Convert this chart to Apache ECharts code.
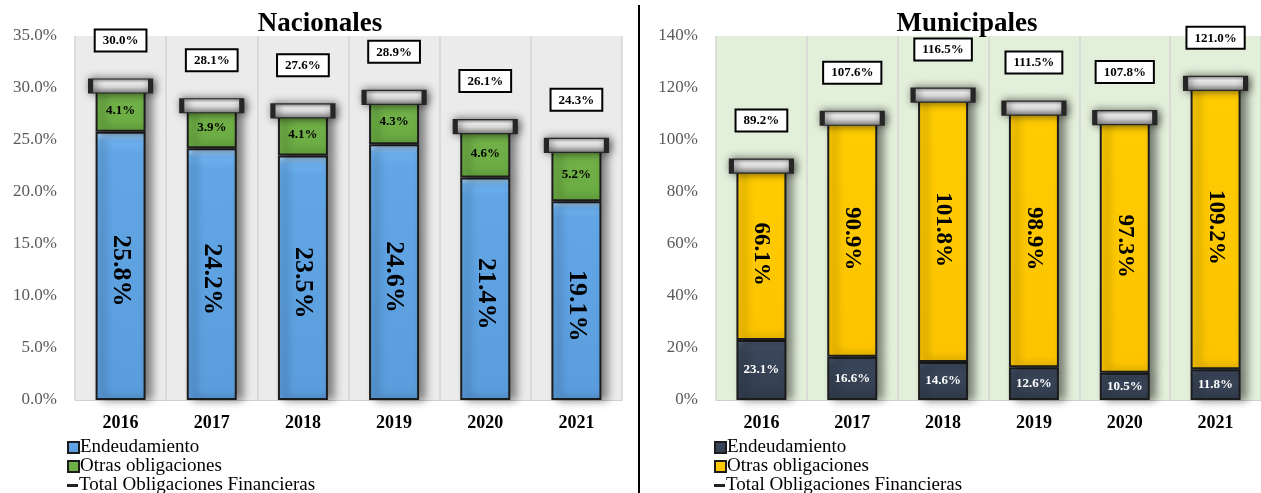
<!DOCTYPE html>
<html>
<head>
<meta charset="utf-8">
<script src="https://cdn.jsdelivr.net/npm/echarts@6/dist/echarts.min.js"></script>
<style>
  html, body { margin: 0; padding: 0; background: #ffffff; }
  #wrap { position: relative; width: 1261px; height: 493px; overflow: hidden; }
  #left { position: absolute; left: 0; top: 0; width: 636px; height: 493px; }
  #right { position: absolute; left: 640px; top: 0; width: 621px; height: 493px; }
  #divider { position: absolute; left: 638px; top: 5px; width: 2px; height: 488px; background: #000; }
</style>
</head>
<body>
<div id="wrap">
  <div id="left"></div>
  <div id="divider"></div>
  <div id="right"></div>
</div>
<script>
// Years shown on both panels
const years = ['2016', '2017', '2018', '2019', '2020', '2021'];

// Nacionales (% of income)
const nacEndeudamiento = [25.8, 24.2, 23.5, 24.6, 21.4, 19.1];
const nacOtras = [4.1, 3.9, 4.1, 4.3, 4.6, 5.2];
const nacTotal = [30.0, 28.1, 27.6, 28.9, 26.1, 24.3];

// Municipales (% of income)
const munEndeudamiento = [23.1, 16.6, 14.6, 12.6, 10.5, 11.8];
const munOtras = [66.1, 90.9, 101.8, 98.9, 97.3, 109.2];
const munTotal = [89.2, 107.6, 116.5, 111.5, 107.8, 121.0];

// Y-axis ranges
const nacAxis = { min: 0, max: 35, interval: 5, digits: 1 };
const munAxis = { min: 0, max: 140, interval: 20, digits: 0 };

const SERIF = '"Liberation Serif", "Times New Roman", serif';
const NAMES = ['Endeudamiento', 'Otras obligaciones', 'Total Obligaciones Financieras'];

function vGrad(stops) {
  return new echarts.graphic.LinearGradient(0, 0, 0, 1,
    stops.map(s => ({ offset: s[0], color: s[1] })));
}

function barStyle(stops) {
  return {
    color: vGrad(stops),
    borderColor: '#1c1c1c',
    borderWidth: 2,
    shadowColor: 'rgba(0,0,0,0.5)',
    shadowBlur: 9,
    shadowOffsetX: 6,
    shadowOffsetY: 0
  };
}

// One single-entry legend per row keeps the three rows stacked
function legendRow(x, y, item) {
  return {
    orient: 'vertical',
    left: x, top: y,
    padding: 0,
    itemWidth: 11, itemHeight: 11,
    selectedMode: false,
    textStyle: { fontFamily: SERIF, fontSize: 19, color: '#000', padding: [0, 0, 0, -4] },
    data: [item]
  };
}

function buildOption(cfg) {
  const fmt = v => v.toFixed(1) + '%';
  return {
    animation: false,
    textStyle: { fontFamily: SERIF },
    title: {
      text: cfg.title,
      left: cfg.titleX,
      top: 6,
      textAlign: 'center',
      textStyle: { fontFamily: SERIF, fontSize: 27, fontWeight: 'bold', color: '#000' }
    },
    legend: [
      legendRow(cfg.legendX, 438, { name: NAMES[0], icon: 'rect' }),
      legendRow(cfg.legendX, 457, { name: NAMES[1], icon: 'rect' }),
      legendRow(cfg.legendX, 476, {
        name: NAMES[2], icon: 'path://M0,9h26v7h-26z',
        itemStyle: { color: '#222', borderWidth: 0, shadowBlur: 0 }
      })
    ],
    grid: {
      left: cfg.gridLeft, right: cfg.gridRight, top: 36, bottom: 93,
      show: true, backgroundColor: cfg.bg, borderWidth: 0
    },
    xAxis: {
      type: 'category',
      data: years,
      axisLine: { show: true, lineStyle: { color: '#d0d0d0', width: 1 } },
      axisTick: { show: false },
      splitLine: { show: true, lineStyle: { color: '#d4d4d4', width: 1.5 } },
      axisLabel: { fontFamily: SERIF, fontSize: 18, fontWeight: 'bold', color: '#000', margin: 14 }
    },
    yAxis: {
      type: 'value',
      min: cfg.axis.min, max: cfg.axis.max, interval: cfg.axis.interval,
      axisLine: { show: false },
      axisTick: { show: false },
      splitLine: { show: false },
      axisLabel: {
        fontFamily: SERIF, fontSize: 17, color: '#595959', margin: 18,
        formatter: v => v.toFixed(cfg.axis.digits) + '%'
      }
    },
    series: [
      {
        name: NAMES[0], type: 'bar', stack: 'total', barWidth: 50,
        data: cfg.base,
        itemStyle: barStyle(cfg.baseColors),
        label: cfg.baseLabel
      },
      {
        name: NAMES[1], type: 'bar', stack: 'total', barWidth: 50,
        data: cfg.other,
        itemStyle: barStyle(cfg.otherColors),
        label: cfg.otherLabel
      },
      {
        name: NAMES[2], type: 'line',
        data: cfg.total,
        z: 5,
        symbol: 'rect',
        symbolSize: [60, 14],
        symbolOffset: [0, -2],
        symbolKeepAspect: true,
        lineStyle: { width: 0, opacity: 0 },
        itemStyle: {
          color: vGrad([[0, '#8a8a8a'], [0.3, '#f2f2f2'], [0.55, '#dedede'], [1, '#7c7c7c']]),
          borderColor: '#262626',
          borderWidth: 2.5,
          shadowColor: 'rgba(0,0,0,0.55)',
          shadowBlur: 8,
          shadowOffsetX: 2
        },
        label: {
          show: true,
          position: 'top',
          distance: 28,
          formatter: p => fmt(p.value),
          backgroundColor: '#ffffff',
          borderColor: '#000',
          borderWidth: 2,
          padding: [4, 7, 3, 7],
          fontFamily: SERIF, fontSize: 13, fontWeight: 'bold', color: '#000'
        }
      }
    ]
  };
}

const bigLabel = (color, size, shift) => ({
  show: true, position: 'inside', rotate: -90, offset: [shift, 0],
  formatter: p => p.value.toFixed(1) + '%',
  fontFamily: SERIF, fontSize: size, fontWeight: 'bold', color: color
});
const smallLabel = color => ({
  show: true, position: 'inside',
  formatter: p => p.value.toFixed(1) + '%',
  fontFamily: SERIF, fontSize: 13, fontWeight: 'bold', color: color
});

const leftChart = echarts.init(document.getElementById('left'), null, { renderer: 'canvas' });
leftChart.setOption(buildOption({
  title: 'Nacionales', titleX: 315,
  legendX: 67, gridLeft: 75, gridRight: 14, bg: '#ebebeb',
  axis: nacAxis,
  base: nacEndeudamiento, other: nacOtras, total: nacTotal,
  baseColors: [[0, '#b4dcff'], [0.035, '#6cb0ee'], [0.08, '#62a6e6'], [1, '#5a9ddd']],
  otherColors: [[0, '#5f9a3a'], [0.06, '#72b149'], [1, '#6aab42']],
  baseLabel: bigLabel('#000', 26, 5),
  otherLabel: smallLabel('#000')
}));

const rightChart = echarts.init(document.getElementById('right'), null, { renderer: 'canvas' });
rightChart.setOption(buildOption({
  title: 'Municipales', titleX: 322,
  legendX: 74, gridLeft: 76, gridRight: -7, bg: '#e2efda',
  axis: munAxis,
  base: munEndeudamiento, other: munOtras, total: munTotal,
  baseColors: [[0, '#6f7f98'], [0.06, '#46546b'], [0.2, '#3a4659'], [1, '#333e50']],
  otherColors: [[0, '#ffd84a'], [0.03, '#ffcc00'], [1, '#fcc400']],
  baseLabel: smallLabel('#ffffff'),
  otherLabel: bigLabel('#000', 23, 0)
}));
</script>
</body>
</html>
